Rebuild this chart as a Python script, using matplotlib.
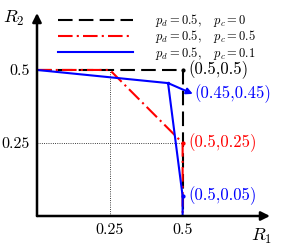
import matplotlib
matplotlib.use('Agg')
import matplotlib.pyplot as plt

plt.rcParams['mathtext.fontset'] = 'cm'
plt.rcParams['font.family'] = ['cmr10', 'DejaVu Serif']
plt.rcParams['axes.formatter.use_mathtext'] = True

# regions
black_x = [0, 0.5, 0.5]
black_y = [0.5, 0.5, 0]
red_x = [0, 0.25, 0.5, 0.5]
red_y = [0.5, 0.5, 0.25, 0]
blue_x = [0, 0.45, 0.5, 0.5]
blue_y = [0.5, 0.455, 0.068, 0]

labels = [r'$p_d = 0.5,\quad p_c = 0$',
          r'$p_d = 0.5,\quad p_c = 0.5$',
          r'$p_d = 0.5,\quad p_c = 0.1$']
ticks = [0.25, 0.5]
tick_labels = ['0.25', '0.5']


def draw_graph():
    fig = plt.figure(figsize=(2.83, 2.45), dpi=100)
    ax = fig.add_axes([37 / 283, 29 / 245, 233 / 283, 203 / 245])
    ax.set_xlim(0, 0.8)
    ax.set_ylim(0, 0.695)
    for s in ax.spines.values():
        s.set_visible(False)

    # оси со стрелками
    arrow = dict(arrowstyle='-|>', lw=1.8, color='k', mutation_scale=13, shrinkA=0, shrinkB=0)
    ax.annotate('', xy=(1, 0), xytext=(0, 0), xycoords='axes fraction', arrowprops=arrow)
    ax.annotate('', xy=(0, 1), xytext=(0, 0), xycoords='axes fraction', arrowprops=arrow)

    # пунктирные направляющие
    ax.plot([0.25, 0.25], [0, 0.5], ':', color='k', lw=0.6)
    ax.plot([0, 0.5], [0.25, 0.25], ':', color='k', lw=0.6)

    ax.plot(black_x, black_y, color='k', lw=1.5, dashes=(7, 3), label=labels[0])
    ax.plot(red_x, red_y, color='r', lw=1.5, dashes=(7, 2, 1, 2), label=labels[1])
    ax.plot(blue_x, blue_y, color='b', lw=1.5, label=labels[2])

    ax.plot(black_x[1], black_y[1], 'k.', ms=4)
    ax.plot(red_x[2], red_y[2], 'r.', ms=4)
    ax.plot(blue_x[2], blue_y[2], 'b.', ms=4)
    ax.plot(blue_x[1], blue_y[1], 'b.', ms=3)

    ax.annotate('', xy=(0.535, 0.418), xytext=(blue_x[1], blue_y[1]),
                arrowprops=dict(arrowstyle='-|>', lw=1.5, color='b', mutation_scale=9, shrinkA=0, shrinkB=0))

    ax.text(0.52, 0.5, '(0.5,0.5)', color='k', fontsize=12, va='center')
    ax.text(0.54, 0.42, '(0.45,0.45)', color='b', fontsize=12, va='center')
    ax.text(0.52, 0.25, '(0.5,0.25)', color='r', fontsize=12, va='center')
    ax.text(0.52, 0.068, '(0.5,0.05)', color='b', fontsize=12, va='center')

    ax.set_xticks(ticks, tick_labels, fontsize=11.5)
    ax.set_yticks(ticks, tick_labels, fontsize=11.5)
    ax.tick_params(length=0, pad=5)

    ax.text(-0.079, 0.678, '$R_2$', fontsize=13, ha='center', va='center')
    ax.text(0.77, -0.07, '$R_1$', fontsize=13, ha='center', va='center')

    ax.legend(loc='upper left', bbox_to_anchor=(0.07, 1.03), frameon=False, fontsize=9,
              handlelength=6.0, handletextpad=1.7, labelspacing=-0.05, borderaxespad=0)

    fig.savefig('out.png', dpi=100)


if __name__ == '__main__':
    draw_graph()
